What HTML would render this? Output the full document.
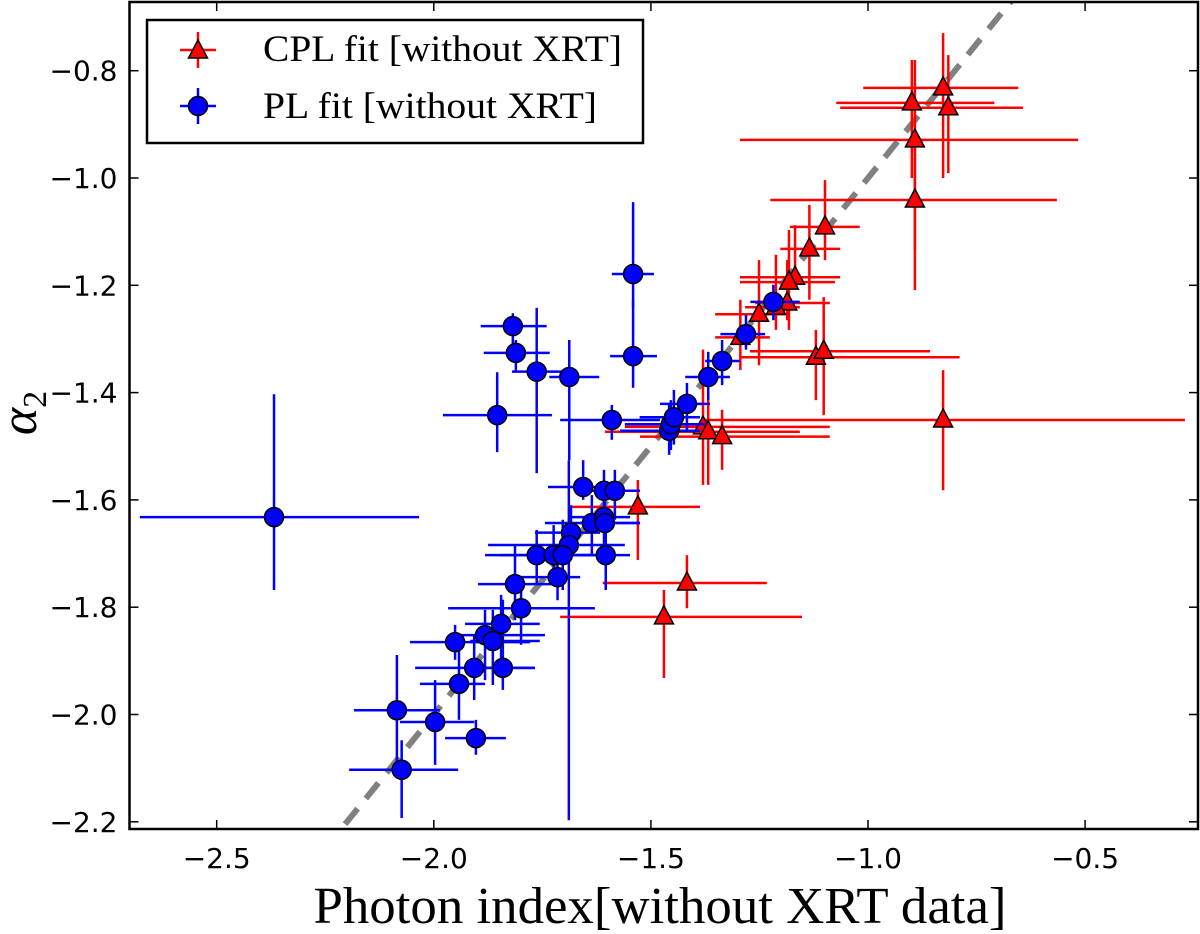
<!DOCTYPE html>
<html><head><meta charset="utf-8"><style>
html,body{margin:0;padding:0;background:#fff;}
svg{display:block;}
</style></head><body>
<svg id="chart" width="1200" height="934" viewBox="0 0 1200 934" xmlns="http://www.w3.org/2000/svg">
<g id="plot"></g>
</svg>
<script>
// CPL fit (red)
const cplX    = [-0.827,-0.899,-0.815,-0.892,-0.892,-1.099,-1.135,-1.168,-1.182,-1.186,-1.212,-1.251,-1.294,-1.120,-1.102,-1.380,-1.368,-1.336,-0.827,-1.530,-1.417,-1.470];
const cplXmin = [-1.011,-1.073,-1.064,-1.295,-1.225,-1.180,-1.202,-1.295,-1.295,-1.260,-1.283,-1.352,-1.352,-1.295,-1.272,-1.560,-1.606,-1.525,-1.375,-1.686,-1.611,-1.709];
const cplXmax = [-0.654,-0.709,-0.643,-0.516,-0.565,-1.019,-1.064,-1.064,-1.076,-1.088,-1.157,-1.180,-1.226,-0.789,-0.857,-1.088,-1.157,-1.088,-0.270,-1.387,-1.233,-1.152];
const cplY    = [-0.832,-0.860,-0.869,-0.929,-1.041,-1.091,-1.132,-1.185,-1.194,-1.233,-1.241,-1.254,-1.297,-1.334,-1.323,-1.464,-1.473,-1.482,-1.451,-1.613,-1.755,-1.818];
const cplYmax = [-0.730,-0.780,-0.771,-0.780,-0.929,-1.004,-1.050,-1.088,-1.097,-1.153,-1.143,-1.153,-1.227,-1.283,-1.222,-1.320,-1.376,-1.432,-1.358,-1.563,-1.703,-1.768];
const cplYmin = [-1.000,-1.000,-0.991,-1.134,-1.209,-1.153,-1.227,-1.199,-1.283,-1.265,-1.283,-1.349,-1.358,-1.414,-1.442,-1.572,-1.572,-1.544,-1.582,-1.712,-1.802,-1.932];
// PL fit (blue)
const plX    = [-2.368,-1.818,-1.811,-1.763,-1.854,-1.688,-1.541,-1.541,-1.590,-1.458,-1.454,-1.447,-1.417,-1.368,-1.336,-1.281,-1.218,-1.656,-1.608,-1.583,-1.636,-1.608,-1.606,-1.684,-1.689,-1.763,-1.724,-1.703,-1.604,-1.715,-1.813,-1.799,-1.845,-1.882,-1.864,-1.951,-1.907,-1.841,-1.942,-2.085,-1.997,-1.903,-2.074];
const plXmin = [-2.677,-1.892,-1.885,-1.820,-1.979,-1.734,-1.590,-1.594,-1.709,-1.571,-1.560,-1.526,-1.479,-1.421,-1.375,-1.340,-1.271,-1.737,-1.675,-1.640,-1.744,-1.686,-1.663,-1.767,-1.875,-1.882,-1.847,-1.779,-1.663,-1.802,-1.898,-1.967,-1.928,-1.939,-1.916,-2.055,-2.043,-1.916,-2.032,-2.184,-2.078,-1.974,-2.195];
const plXmax = [-2.034,-1.740,-1.733,-1.705,-1.728,-1.619,-1.493,-1.486,-1.479,-1.387,-1.376,-1.387,-1.364,-1.318,-1.295,-1.237,-1.157,-1.590,-1.525,-1.525,-1.525,-1.548,-1.525,-1.617,-1.560,-1.640,-1.617,-1.640,-1.548,-1.663,-1.709,-1.629,-1.756,-1.744,-1.756,-1.778,-1.767,-1.767,-1.882,-1.986,-1.907,-1.834,-1.944];
const plY    = [-1.632,-1.276,-1.326,-1.361,-1.442,-1.371,-1.179,-1.332,-1.451,-1.471,-1.459,-1.446,-1.421,-1.371,-1.341,-1.291,-1.231,-1.576,-1.583,-1.583,-1.643,-1.632,-1.643,-1.661,-1.684,-1.703,-1.703,-1.703,-1.703,-1.744,-1.757,-1.802,-1.831,-1.852,-1.863,-1.865,-1.913,-1.913,-1.943,-1.992,-2.014,-2.044,-2.103];
const plYmax = [-1.403,-1.252,-1.302,-1.242,-1.362,-1.302,-1.045,-1.227,-1.423,-1.423,-1.414,-1.395,-1.382,-1.324,-1.302,-1.255,-1.199,-1.526,-1.544,-1.544,-1.591,-1.591,-1.600,-1.610,-1.526,-1.656,-1.647,-1.637,-1.656,-1.699,-1.684,-1.749,-1.777,-1.805,-1.805,-1.833,-1.852,-1.786,-1.861,-1.889,-1.936,-2.010,-2.048];
const plYmin = [-1.768,-1.311,-1.362,-1.550,-1.511,-1.526,-1.242,-1.391,-1.488,-1.516,-1.507,-1.497,-1.470,-1.414,-1.386,-1.320,-1.265,-1.600,-1.637,-1.637,-1.703,-1.684,-1.693,-1.712,-2.197,-1.759,-1.759,-1.768,-1.768,-1.787,-1.824,-1.870,-1.898,-1.936,-1.945,-1.898,-1.973,-1.954,-2.010,-2.094,-2.094,-2.075,-2.193];
const xTicks = [-2.5,-2.0,-1.5,-1.0,-0.5];
const xTickLabels = ["\u22122.5","\u22122.0","\u22121.5","\u22121.0","\u22120.5"];
const yTicks = [-0.8,-1.0,-1.2,-1.4,-1.6,-1.8,-2.0,-2.2];
const yTickLabels = ["\u22120.8","\u22121.0","\u22121.2","\u22121.4","\u22121.6","\u22121.8","\u22122.0","\u22122.2"];
const fitLine = [-2.3,-0.6];

const L=129.5,R=1198,T=2,B=829;
function sx(v){return 216.7+(v+2.5)*434.2;}
function sy(v){return 70.7-(v+0.8)*536.5;}
const NS='http://www.w3.org/2000/svg';
const svg=document.getElementById('chart');
const plot=document.getElementById('plot');
function mk(tag,attrs,parent){const e=document.createElementNS(NS,tag);for(const k in attrs)e.setAttribute(k,attrs[k]);(parent||svg).appendChild(e);return e;}

const defs=mk('defs',{});
const cp=mk('clipPath',{id:'clip'},defs);
mk('rect',{x:L,y:T,width:R-L,height:B-T},cp);
plot.setAttribute('clip-path','url(#clip)');

const fl=mk('line',{x1:sx(fitLine[0]),y1:sy(fitLine[0]),x2:sx(fitLine[1]),y2:sy(fitLine[1]),stroke:'#808080','stroke-width':6,'stroke-dasharray':'20 13'},plot);



function errbars(X,Xa,Xb,Y,Ya,Yb,color,name){
  const g=mk('g',{},plot);
  
  
  for(let i=0;i<X.length;i++){
    mk('line',{x1:sx(Xa[i]),x2:sx(Xb[i]),y1:sy(Y[i]),y2:sy(Y[i]),stroke:color,'stroke-width':2.5},g);
    mk('line',{x1:sx(X[i]),x2:sx(X[i]),y1:sy(Ya[i]),y2:sy(Yb[i]),stroke:color,'stroke-width':2.5},g);
  }
}
function tri(cx,cy,parent){
  return mk('polygon',{points:`${cx},${cy-11} ${cx-9.5},${cy+7} ${cx+9.5},${cy+7}`,fill:'#ff0000',stroke:'#000','stroke-width':1.5},parent);
}
errbars(cplX,cplXmin,cplXmax,cplY,cplYmax,cplYmin,'#ff0000','cpl');
const gr=mk('g',{},plot);


for(let i=0;i<cplX.length;i++){
  const t=tri(sx(cplX[i]),sy(cplY[i]),gr);
  
  
}
errbars(plX,plXmin,plXmax,plY,plYmax,plYmin,'#0000ff','pl');
const gb=mk('g',{},plot);


for(let i=0;i<plX.length;i++){
  const c=mk('circle',{cx:sx(plX[i]),cy:sy(plY[i]),r:9.5,fill:'#0000ff',stroke:'#000','stroke-width':1.5},gb);
  
  
}

const fr=mk('rect',{x:L,y:T,width:R-L,height:B-T,fill:'none',stroke:'#000','stroke-width':2.5});



const xa=mk('g',{});


xTicks.forEach((v,i)=>{
  const x=sx(v);
  mk('line',{x1:x,x2:x,y1:B,y2:B-9,stroke:'#000','stroke-width':1.5},xa);
  mk('line',{x1:x,x2:x,y1:T,y2:T+9,stroke:'#000','stroke-width':1.5},xa);
  const t=mk('text',{x:x,y:868,'text-anchor':'middle','font-family':'DejaVu Sans, Liberation Sans, sans-serif','font-size':28},xa);
  t.textContent=xTickLabels[i];
  
  
});
const ya=mk('g',{});


yTicks.forEach((v,i)=>{
  const y=sy(v);
  mk('line',{x1:L,x2:L+9,y1:y,y2:y,stroke:'#000','stroke-width':1.5},ya);
  mk('line',{x1:R,x2:R-9,y1:y,y2:y,stroke:'#000','stroke-width':1.5},ya);
  const t=mk('text',{x:L-12,y:y+10,'text-anchor':'end','font-family':'DejaVu Sans, Liberation Sans, sans-serif','font-size':28},ya);
  t.textContent=yTickLabels[i];
  
  
});
</script>
<svg style="position:absolute;left:0;top:0" width="1200" height="934" xmlns="http://www.w3.org/2000/svg">
  <text x="660" y="923" text-anchor="middle" font-family="Liberation Serif, serif" font-size="52" textLength="693" lengthAdjust="spacingAndGlyphs">Photon index[without XRT data]</text>
  <text transform="translate(36,413) rotate(-90)" text-anchor="middle" font-family="Liberation Serif, serif" font-size="52" font-style="italic">α<tspan font-size="34" dy="10" font-style="normal">2</tspan></text>
  <g>
    <rect x="147" y="20" width="496" height="123" fill="#fff" stroke="#000" stroke-width="2.5"/>
    <g>
      <line x1="180" x2="216" y1="50" y2="50" stroke="#ff0000" stroke-width="2.5"/>
      <line x1="198" x2="198" y1="32" y2="68" stroke="#ff0000" stroke-width="2.5"/>
      <polygon points="198,40 188.5,58 207.5,58" fill="#ff0000" stroke="#000" stroke-width="1.5"/>
      <text x="263" y="61" font-family="Liberation Serif, serif" font-size="37" textLength="359" lengthAdjust="spacingAndGlyphs">CPL fit [without XRT]</text>
    </g>
    <g>
      <line x1="180" x2="216" y1="106" y2="106" stroke="#0000ff" stroke-width="2.5"/>
      <line x1="198" x2="198" y1="88" y2="124" stroke="#0000ff" stroke-width="2.5"/>
      <circle cx="198" cy="106" r="9.5" fill="#0000ff" stroke="#000" stroke-width="1.5"/>
      <text x="263" y="118" font-family="Liberation Serif, serif" font-size="37" textLength="334" lengthAdjust="spacingAndGlyphs">PL fit [without XRT]</text>
    </g>
  </g>
</svg>
</body></html>
